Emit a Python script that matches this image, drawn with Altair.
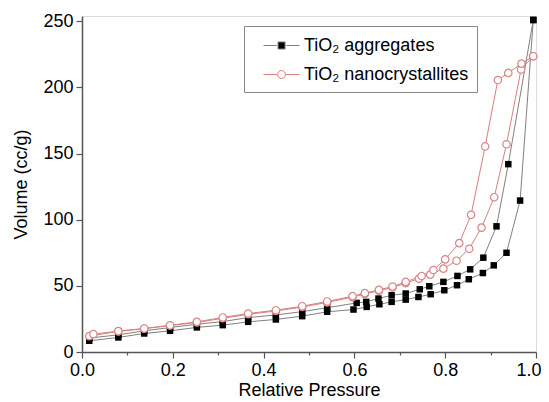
import altair as alt
import pandas as pd

# TiO2 aggregates (black squares)
P_agg_ads = [0.016, 0.080, 0.137, 0.194, 0.253, 0.310, 0.366, 0.427, 0.485, 0.540, 0.598, 0.627, 0.655,
             0.682, 0.713, 0.741, 0.768, 0.798, 0.826, 0.852, 0.883, 0.907, 0.935, 0.965, 0.994]
V_agg_ads = [8.5, 11, 14, 16, 18.6, 20.3, 22.8, 24.6, 27.1, 30.4, 32.1, 34.1, 36.1,
             37.9, 39.6, 41.6, 43.7, 46.7, 50.5, 55, 59.7, 65.5, 75, 114.5, 251]
P_agg_des = [0.994, 0.939, 0.913, 0.884, 0.855, 0.827, 0.796, 0.765, 0.744, 0.713, 0.682, 0.653,
             0.626, 0.605, 0.540, 0.485, 0.427, 0.366, 0.310, 0.253, 0.194, 0.137, 0.080, 0.016]
V_agg_des = [251, 142, 95, 71.3, 62.5, 57.5, 53, 49.7, 47.4, 44.2, 42.9, 40.4,
             37.9, 37.1, 33.5, 30.5, 28, 26, 23, 21, 18.5, 16, 13, 10.5]

# TiO2 nanocrystallites (open circles)
P_nano_ads = [0.016, 0.080, 0.137, 0.194, 0.253, 0.310, 0.366, 0.427, 0.485, 0.540, 0.596, 0.623, 0.654,
              0.684, 0.713, 0.742, 0.767, 0.796, 0.825, 0.853, 0.880, 0.908, 0.935, 0.967, 0.994]
V_nano_ads = [12, 15.6, 17.6, 20, 22.3, 25.5, 28.5, 31, 34, 37.5, 41.5, 43.8, 46.3,
              48.8, 52, 55.5, 58.5, 63, 69, 78, 94, 117, 157, 213.6, 223.6]
P_nano_des = [0.994, 0.968, 0.939, 0.916, 0.888, 0.857, 0.831, 0.800, 0.774, 0.748, 0.713, 0.684,
              0.654, 0.623, 0.596, 0.540, 0.485, 0.427, 0.366, 0.310, 0.253, 0.194, 0.137, 0.080, 0.025]
V_nano_des = [223.6, 218, 211, 205.6, 155.4, 103.7, 82.3, 70, 62, 57.5, 53, 49.5,
              47, 44.5, 42.2, 38.2, 34.6, 31.6, 29.1, 26.1, 22.8, 20.2, 17.8, 15.8, 13.5]

series_names = ["TiO\u2082 aggregates", "TiO\u2082 nanocrystallites"]
x_ticks = [round(i * 0.1, 1) for i in range(11)]
y_ticks = list(range(0, 251, 25))


def frame(branch, P, V):
    return pd.DataFrame({"branch": branch, "P": P, "V": V, "i": list(range(len(P)))})


agg = pd.concat([frame("ads", P_agg_ads, V_agg_ads), frame("des", P_agg_des, V_agg_des)])
nano = pd.concat([frame("ads", P_nano_ads, V_nano_ads), frame("des", P_nano_des, V_nano_des)])
legend_df = pd.DataFrame({"series": series_names, "P": [None, None], "V": [None, None]})

FONT = "Liberation Sans"
FRAME = "#555555"
RED = "#dc7d7d"
GRAY = "#808080"

xs = alt.Scale(domain=[0, 1], nice=False)
ys = alt.Scale(domain=[0, 254], nice=False)

xaxis = alt.Axis(
    values=x_ticks, format=".1f",
    labelExpr="round(datum.value*10)%2==0 ? datum.label : ''",
    tickSize={"condition": {"test": "round(datum.value*10)%2==0", "value": 6}, "value": 3},
    labelAlign={"condition": {"test": "datum.value >= 0.99", "value": "right"}, "value": "center"},
    labelOffset={"condition": {"test": "datum.value >= 0.99", "value": 5}, "value": 0},
    title="Relative Pressure", grid=False, labelFlush=False, labelOverlap=False,
    labelFont=FONT, labelFontSize=18, labelColor="black", labelPadding=3,
    titleFont=FONT, titleFontSize=18, titleFontWeight="normal", titleColor="black", titlePadding=2,
    domainColor=FRAME, domainWidth=1.5, tickColor=FRAME, tickWidth=1.2,
)
yaxis = alt.Axis(
    values=y_ticks,
    labelExpr="datum.value % 50 == 0 ? datum.label : ''",
    tickSize={"condition": {"test": "datum.value % 50 == 0", "value": 6}, "value": 3},
    title="Volume (cc/g)", grid=False, labelOverlap=False,
    labelFont=FONT, labelFontSize=18, labelColor="black", labelPadding=3,
    titleFont=FONT, titleFontSize=18, titleFontWeight="normal", titleColor="black", titlePadding=12,
    domainColor=FRAME, domainWidth=1.5, tickColor=FRAME, tickWidth=1.2,
)

x_enc = alt.X("P:Q", scale=xs, axis=xaxis)
y_enc = alt.Y("V:Q", scale=ys, axis=yaxis)

nano_lines = alt.Chart(nano).mark_line(color=RED, strokeWidth=1).encode(
    x=x_enc, y=y_enc, detail="branch:N", order="i:Q")
agg_lines = alt.Chart(agg).mark_line(color=GRAY, strokeWidth=1).encode(
    x="P:Q", y="V:Q", detail="branch:N", order="i:Q")
agg_pts = alt.Chart(agg).mark_point(shape="square", filled=True, color="black", size=42, opacity=1).encode(
    x="P:Q", y="V:Q")
nano_pts = alt.Chart(nano).mark_point(shape="circle", filled=True, fill="white", stroke="#d98585",
                                      strokeWidth=1.2, size=55, opacity=1).encode(x="P:Q", y="V:Q")

path_agg = "M0,0H1.2M2.08,0H3.27M1.32,-0.32H1.96V0.32H1.32Z"
path_nano = "M0,0H1.25M2.03,0H3.27M2.0,0A0.36,0.36 0 1 1 1.28,0A0.36,0.36 0 1 1 2.0,0Z"

legend = alt.Legend(
    orient="none", legendX=162, legendY=10, title=None,
    labelFont=FONT, labelFontSize=18, labelColor="black", labelOffset=29, labelLimit=400,
    symbolSize=484, symbolStrokeWidth=1, padding=8, rowPadding=8,
    strokeColor="#888888", fillColor="white",
)
legend_layer = alt.Chart(legend_df).mark_point(filled=True, opacity=1).encode(
    x="P:Q", y="V:Q",
    shape=alt.Shape("series:N", scale=alt.Scale(domain=series_names, range=[path_agg, path_nano]), legend=legend),
    fill=alt.Fill("series:N", scale=alt.Scale(domain=series_names, range=["black", "white"]), legend=legend),
    stroke=alt.Stroke("series:N", scale=alt.Scale(domain=series_names, range=[GRAY, RED]), legend=legend),
)

chart = alt.layer(nano_lines, agg_lines, agg_pts, nano_pts, legend_layer).properties(
    width=454, height=336,
    padding={"left": 74, "top": 8, "right": 5, "bottom": 50},
    autosize=alt.AutoSizeParams(type="none"),
).configure_view(stroke=FRAME, strokeWidth=1.5).configure(background="white")

chart.save("out.html", embed_options={"renderer": "svg", "actions": False})
